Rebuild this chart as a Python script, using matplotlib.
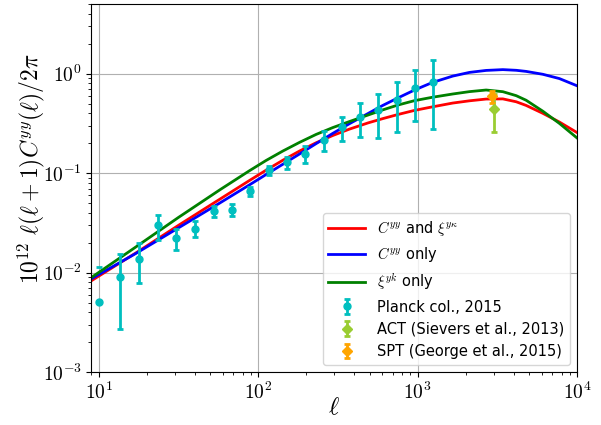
"""
Compton-y power spectrum: best-fit model curves against the Planck, ACT and
SPT measurements, shown on log-log axes.
"""

import matplotlib
matplotlib.use("Agg")
import matplotlib.pyplot as plt
import numpy as np
from matplotlib.ticker import FuncFormatter

plt.rcParams["mathtext.fontset"] = "cm"

# -----------------------------
# Model curves, 10^12 l(l+1) C_l^yy / 2pi
# -----------------------------
ELL_MODEL = [9.0, 17.3, 31.6, 57.4, 88.1, 112, 143, 182, 231, 294, 374, 490,
             605, 752, 957, 1236, 1663, 2118, 2692, 3428, 4160, 4797, 6109,
             7762, 10000]
DL_JOINT = [0.00832, 0.0160, 0.0299, 0.0547, 0.0843, 0.107, 0.135, 0.167,
            0.202, 0.239, 0.277, 0.320, 0.353, 0.388, 0.427, 0.463, 0.506,
            0.533, 0.555, 0.557, 0.521, 0.479, 0.399, 0.326, 0.256]
DL_CYY_ONLY = [0.00871, 0.0158, 0.0282, 0.0501, 0.0762, 0.0968, 0.123, 0.156,
               0.198, 0.251, 0.314, 0.398, 0.479, 0.569, 0.684, 0.813, 0.944,
               1.028, 1.076, 1.096, 1.079, 1.052, 0.984, 0.891, 0.755]
DL_XI_ONLY = [0.00897, 0.0184, 0.0359, 0.0679, 0.1057, 0.134, 0.167, 0.204,
              0.245, 0.287, 0.330, 0.384, 0.432, 0.483, 0.535, 0.578, 0.624,
              0.659, 0.684, 0.658, 0.600, 0.540, 0.419, 0.316, 0.226]

# -----------------------------
# Measurements
# -----------------------------
PLANCK_ELL = [10, 13.5, 18, 23.5, 30.5, 40, 52.5, 68.5, 89.5, 117, 152.5,
              198, 257.5, 335.5, 436.5, 567.5, 738, 959.5, 1247.5]
PLANCK_DL = [0.0051, 0.0090, 0.0138, 0.0299, 0.0223, 0.0277, 0.0414, 0.0430,
             0.0659, 0.107, 0.128, 0.157, 0.215, 0.290, 0.366, 0.428, 0.540,
             0.711, 0.825]
PLANCK_ERR = [0.0063, 0.0063, 0.0059, 0.0084, 0.0053, 0.0050, 0.0051, 0.0058,
              0.0072, 0.0115, 0.018, 0.030, 0.048, 0.080, 0.137, 0.200, 0.280,
              0.380, 0.550]

ACT_ELL = [3000]
ACT_DL = [0.441]
ACT_ERR = [0.180]

SPT_ELL = [2920]
SPT_DL = [0.591]
SPT_ERR = [0.085]


def power_label(value, pos):
    exponent = int(round(np.log10(value)))
    return r"$10^{%d}$" % exponent


def main() -> None:
    fig = plt.figure(figsize=(6.01, 4.25), dpi=100)
    ax = fig.add_axes([0.1522, 0.124, 0.8078, 0.8666])
    ax.set_xscale("log")
    # masked so a lower error bound below zero drops the whole bar
    ax.set_yscale("log", nonpositive="mask")

    ax.plot(ELL_MODEL, DL_JOINT, color="r", lw=2,
            label=r"$C^{yy}$ and $\xi^{y\kappa}$")
    ax.plot(ELL_MODEL, DL_CYY_ONLY, color="b", lw=2,
            label=r"$C^{yy}$ only")
    ax.plot(ELL_MODEL, DL_XI_ONLY, color="g", lw=2,
            label=r"$\xi^{yk}$ only")

    eb = dict(ls="none", elinewidth=2, capsize=2.5, capthick=2)
    ax.errorbar(PLANCK_ELL, PLANCK_DL, yerr=PLANCK_ERR, fmt="o", color="c",
                ms=5, label="Planck col., 2015", **eb)
    ax.errorbar(ACT_ELL, ACT_DL, yerr=ACT_ERR, fmt="D", color="yellowgreen",
                ms=5, label="ACT (Sievers et al., 2013)", **eb)
    ax.errorbar(SPT_ELL, SPT_DL, yerr=SPT_ERR, fmt="D", color="orange",
                ms=5, label="SPT (George et al., 2015)", **eb)

    ax.set_xlim(9, 1e4)
    ax.set_ylim(1e-3, 5)
    ax.grid(True)
    ax.xaxis.set_major_formatter(FuncFormatter(power_label))
    ax.yaxis.set_major_formatter(FuncFormatter(power_label))
    ax.tick_params(labelsize=14)
    ax.set_xlabel(r"$\ell$", fontsize=18)
    ax.set_ylabel(r"$10^{12}\ \ell(\ell+1)C^{yy}(\ell)/2\pi$", fontsize=17)
    ax.xaxis.set_label_coords(0.5, -0.062)
    ax.yaxis.set_label_coords(-0.092, 0.552)
    ax.legend(loc="lower right", fontsize=10.5, handlelength=2.5)

    fig.savefig("out.png", dpi=100)
    plt.close(fig)


if __name__ == "__main__":
    main()
